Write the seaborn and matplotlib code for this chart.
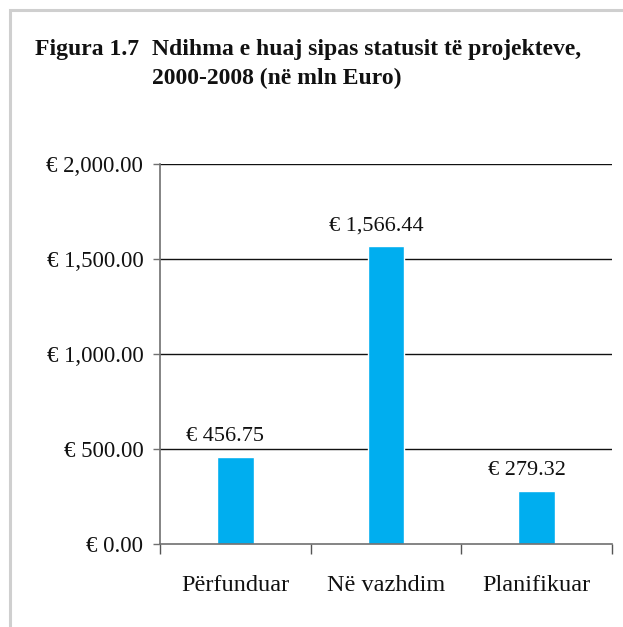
import matplotlib
matplotlib.use("Agg")
import matplotlib.pyplot as plt
import seaborn as sns
import pandas as pd
from matplotlib.patches import Rectangle
from matplotlib.ticker import FuncFormatter, FixedLocator

categories = ["Përfunduar", "Në vazhdim", "Planifikuar"]
values = [456.75, 1566.44, 279.32]
value_labels = ["€ 456.75", "€ 1,566.44", "€ 279.32"]
yticks = [0, 500, 1000, 1500, 2000]
title_prefix = "Figura 1.7"
title_lines = ["Ndihma e huaj sipas statusit të projekteve,", "2000-2008 (në mln Euro)"]

sns.set_theme(style="white")
plt.rcParams["font.family"] = ["Liberation Serif", "DejaVu Serif"]

W, H = 623, 627
fig = plt.figure(figsize=(W / 100, H / 100), dpi=100)
ax = fig.add_axes([160 / W, 1 - 544 / H, (612 - 160) / W, (544 - 164) / H])

df = pd.DataFrame({"cat": categories, "val": values})
sns.barplot(data=df, x="cat", y="val", color="#00AEEF", saturation=1, width=0.245, ax=ax)

ax.set_ylim(0, 2000)
ax.set_xlim(-0.5, 2.5)
ax.set_yticks(yticks)
ax.yaxis.set_major_formatter(FuncFormatter(lambda v, p: "€ " + f"{v:,.2f}"))
ax.set_xlabel("")
ax.set_ylabel("")

for y in yticks[1:]:
    ax.axhline(y, color="#111111", lw=1.0, zorder=0)

for s in ["top", "right"]:
    ax.spines[s].set_visible(False)
for s in ["left", "bottom"]:
    ax.spines[s].set_color("#707070")
    ax.spines[s].set_linewidth(1.2)

ax.tick_params(axis="y", left=True, length=5, width=1, color="#707070", pad=7, labelsize=16.5, labelcolor="#111111")
ax.tick_params(axis="x", which="major", bottom=False, length=0, pad=22, labelsize=17.5, labelcolor="#111111")
ax.xaxis.set_minor_locator(FixedLocator([-0.5, 0.5, 1.5, 2.5]))
ax.tick_params(axis="x", which="minor", bottom=True, length=7, width=1, color="#555555")

for i, (v, lab) in enumerate(zip(values, value_labels)):
    ax.annotate(lab, (i, v), xytext=(-7.2, 11.5), textcoords="offset points",
                ha="center", va="baseline", fontsize=16, color="#111111")

fig.text(35 / W, 1 - 55 / H, title_prefix, fontsize=17, fontweight="bold", color="#111111", va="baseline")
fig.text(152 / W, 1 - 55 / H, title_lines[0], fontsize=17, fontweight="bold", color="#111111", va="baseline")
fig.text(152 / W, 1 - 84 / H, title_lines[1], fontsize=17, fontweight="bold", color="#111111", va="baseline")

fig.patches.append(Rectangle((10 / W, -0.1), 1.2, 1 - 10 / H + 0.1, transform=fig.transFigure,
                             fill=False, edgecolor="#cfcfcf", lw=2.2, zorder=-1))

fig.savefig("out.png", dpi=100)
